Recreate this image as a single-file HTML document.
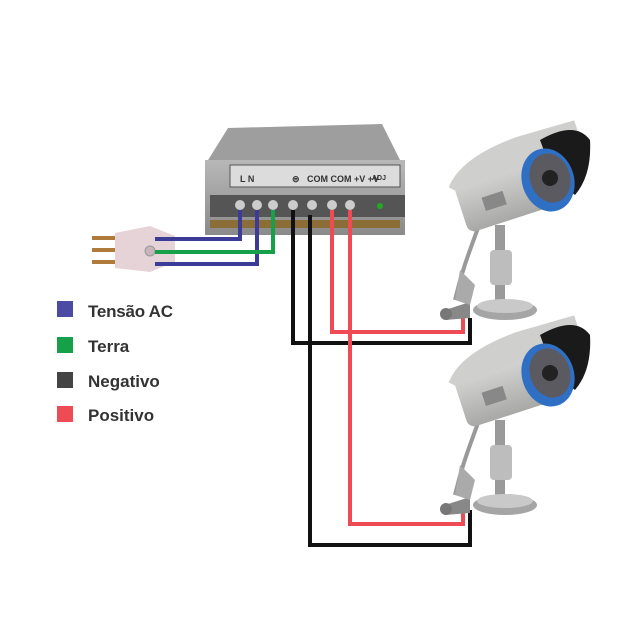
<!DOCTYPE html>
<html><head><meta charset="utf-8"><style>
html,body{margin:0;padding:0;background:#fff;}
svg{display:block;}
text{font-family:"Liberation Sans",sans-serif;font-weight:bold;}
</style></head><body>
<svg width="640" height="640" viewBox="0 0 640 640" xmlns="http://www.w3.org/2000/svg">
<defs>
<linearGradient id="psu" x1="0" y1="0" x2="0" y2="1"><stop offset="0" stop-color="#b8b8b8"/><stop offset="1" stop-color="#8a8a8a"/></linearGradient>
<linearGradient id="cam" x1="0" y1="0" x2="0" y2="1"><stop offset="0" stop-color="#d8d8d6"/><stop offset="1" stop-color="#a8a8a6"/></linearGradient>
<g id="camera">
  <path d="M478,228 C470,250 462,270 455,300" stroke="#999" stroke-width="4" fill="none"/>
  <rect x="495" y="225" width="10" height="75" fill="#9a9a9a"/>
  <rect x="490" y="250" width="22" height="35" rx="4" fill="#bdbdbd"/>
  <ellipse cx="505" cy="310" rx="32" ry="10" fill="#a5a5a5"/>
  <ellipse cx="505" cy="306" rx="28" ry="7" fill="#c9c9c9"/>
  <path d="M445,310 L470,302 L470,318 L445,320 Z" fill="#888"/>
  <circle cx="446" cy="314" r="6" fill="#777"/>
  <path d="M460,270 L475,285 L470,305 L455,300 Z" fill="#aaa"/>
  <g transform="rotate(-18 520 180)">
    <rect x="455" y="160" width="110" height="55" rx="8" fill="url(#cam)"/>
    <path d="M450,165 Q470,140 530,138 L590,140 L590,165 L455,170 Z" fill="#cfcfcd"/>
    <rect x="478" y="185" width="22" height="14" fill="#888"/>
  </g>
  <path d="M540,140 Q575,120 590,140 Q592,175 575,195 L555,180 Z" fill="#1a1a1a"/>
  <ellipse cx="548" cy="180" rx="26" ry="32" transform="rotate(-18 548 180)" fill="#2f6fc4"/>
  <ellipse cx="550" cy="178" rx="20" ry="25" transform="rotate(-18 550 178)" fill="#5a5a60"/>
  <circle cx="550" cy="178" r="8" fill="#222"/>
</g>
</defs>

<path d="M228,128 L382,124 L400,160 L205,165 Z" fill="#9e9e9e"/>
<rect x="205" y="160" width="200" height="75" fill="url(#psu)"/>
<rect x="230" y="165" width="170" height="22" fill="#dcdcdc" stroke="#555" stroke-width="1"/>
<text x="240" y="182" font-size="9" font-weight="normal" fill="#333">L  N</text>
<text x="292" y="182" font-size="9" font-weight="normal" fill="#333">⊜</text>
<text x="307" y="182" font-size="9" font-weight="normal" fill="#333">COM COM +V +V</text>
<text x="372" y="180" font-size="7" font-weight="normal" fill="#333">ADJ</text>
<rect x="210" y="195" width="195" height="22" fill="#555"/>
<g fill="#ccc">
<circle cx="240" cy="205" r="5"/><circle cx="257" cy="205" r="5"/><circle cx="273" cy="205" r="5"/>
<circle cx="293" cy="205" r="5"/><circle cx="312" cy="205" r="5"/><circle cx="332" cy="205" r="5"/><circle cx="350" cy="205" r="5"/>
</g>
<circle cx="380" cy="206" r="3" fill="#2a2"/>
<rect x="210" y="220" width="190" height="8" fill="#8a6e35"/>

<rect x="92" y="236" width="30" height="4" fill="#b07a3a"/>
<rect x="92" y="248" width="30" height="4" fill="#b07a3a"/>
<rect x="92" y="260" width="30" height="4" fill="#b07a3a"/>
<path d="M115,233 L150,226 L175,236 L175,262 L150,272 L115,268 Z" fill="#e6d3d8"/>
<circle cx="150" cy="251" r="5" fill="#c8b5ba" stroke="#999"/>

<g fill="none" stroke-width="4">
<path d="M155,239 H240 V210" stroke="#3c3c98"/>
<path d="M155,264 H257 V210" stroke="#3c3c98"/>
<path d="M155,252 H273 V210" stroke="#16a04a"/>
<path d="M293,210 V343 H470 V318" stroke="#111"/>
<path d="M310,215 V545 H470 V510" stroke="#111"/>
<path d="M332,210 V332 H463 V318" stroke="#ee4b55"/>
<path d="M350,210 V524 H463 V510" stroke="#ee4b55"/>
</g>

<use href="#camera"/>
<use href="#camera" transform="translate(0,195)"/>

<rect x="57" y="301" width="16" height="16" fill="#4b4ba3"/>
<rect x="57" y="337" width="16" height="16" fill="#16a04a"/>
<rect x="57" y="372" width="16" height="16" fill="#444"/>
<rect x="57" y="406" width="16" height="16" fill="#ee4b55"/>
<g font-size="17" fill="#333">
<text x="88" y="317" textLength="85">Tensão AC</text>
<text x="88" y="352">Terra</text>
<text x="88" y="387">Negativo</text>
<text x="88" y="421">Positivo</text>
</g>
</svg>
</body></html>
